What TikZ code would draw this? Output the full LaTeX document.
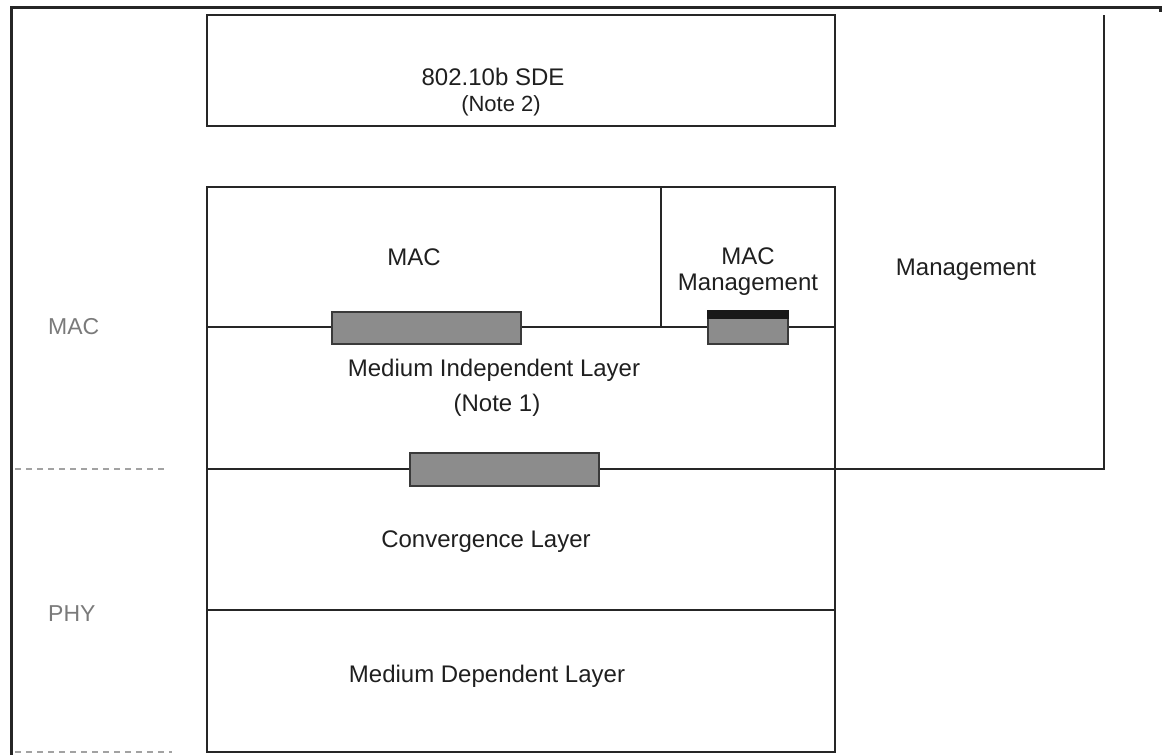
\documentclass[tikz,border=0pt]{standalone}
\usepackage{fontspec}
\setmainfont{Liberation Sans}
\definecolor{sapfill}{HTML}{8C8C8C}
\definecolor{sapedge}{HTML}{3A3A3A}
\definecolor{sidegray}{HTML}{7A7A7A}
\begin{document}
\begin{tikzpicture}[x=1pt,y=-1pt,
  frame/.style={line width=3pt,black!85},
  boxline/.style={line width=2.2pt,black!85},
  sap/.style={draw=sapedge,fill=sapfill,line width=1.6pt},
  sapbar/.style={fill=black!90,draw=none},
  sidedash/.style={sidegray!70,line width=1.3pt,dash pattern=on 6pt off 5pt},
  lbl/.style={font=\fontsize{24}{27}\selectfont,text=black!88,inner sep=0pt,align=center},
  notelbl/.style={font=\fontsize{22}{26}\selectfont,text=black!88,inner sep=0pt,align=center},
  sidelbl/.style={font=\fontsize{23}{27}\selectfont,text=sidegray,inner sep=0pt,anchor=west}]
\useasboundingbox (0,0) rectangle (1162,755);
% outer frame (open at right and bottom)
\draw[frame] (11,755) -- (11,7) -- (1160,7) -- (1160,12);
% SDE box
\draw[boxline] (207,15) rectangle (835,126);
% protocol stack
\draw[boxline] (207,187) rectangle (835,752);
\draw[boxline] (661,187) -- (661,327);
\draw[boxline] (207,327) -- (835,327);
\draw[boxline] (207,469) -- (1104,469) -- (1104,15);
\draw[boxline] (207,610) -- (835,610);
% service access points
\draw[sap] (332,312) rectangle (521,344);
\draw[sap] (708,318) rectangle (788,344);
\fill[sapbar] (707,310) rectangle (789,319);
\draw[sap] (410,453) rectangle (599,486);
% layer boundaries on the left
\draw[sidedash] (15,469) -- (165,469);
\draw[sidedash] (15,752) -- (172,752);
% labels
\node[lbl] (sde) at (493,77) {802.10b SDE};
\node[notelbl] (note2) at (501,106) {(Note 2)};
\node[lbl] (mac) at (414,257) {MAC};
\node[lbl] (macmgmt) at (748,256) {MAC};
\node[lbl] (macmgmt2) at (748,285) {Management};
\node[lbl] (mgmt) at (966,270) {Management};
\node[lbl] (mil) at (494,370) {Medium Independent Layer};
\node[lbl] (note1) at (497,405) {(Note 1)};
\node[lbl] (conv) at (486,542) {Convergence Layer};
\node[lbl] (mdl) at (487,676) {Medium Dependent Layer};
\node[sidelbl] (sidemac) at (48,327) {MAC};
\node[sidelbl] (sidephy) at (48,614) {PHY};
\end{tikzpicture}
\end{document}
